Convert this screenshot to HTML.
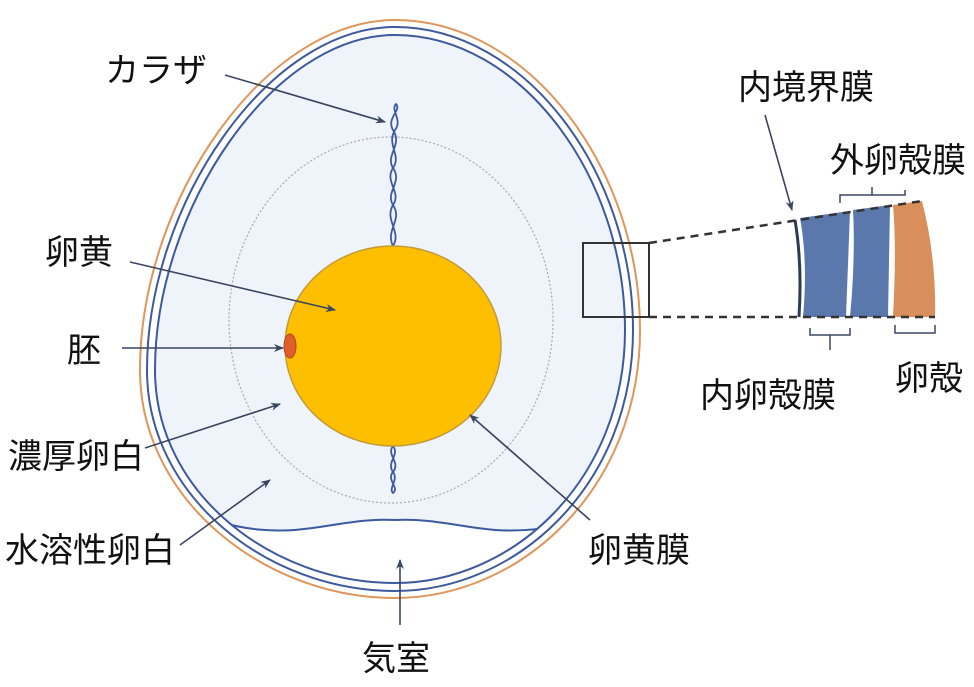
<!DOCTYPE html>
<html><head><meta charset="utf-8"><style>
body{margin:0;background:#fff}
svg text{font-family:"Liberation Sans","Noto Sans CJK JP",sans-serif;font-size:34px;fill:#111}
</style></head><body>
<svg width="974" height="682" viewBox="0 0 974 682" xmlns="http://www.w3.org/2000/svg">
<defs><marker id="a" markerWidth="10" markerHeight="10" refX="9" refY="5" orient="auto" markerUnits="userSpaceOnUse"><path d="M0,1 L10,5 L0,9 L3,5Z" fill="#3a4660"/></marker>
<clipPath id="c"><path d="M395,35 C520,35 625,175 625,330 C625,480 513,583 395,583 C272,583 155,493 155,370 C155,210 272,35 395,35 Z"/></clipPath></defs>
<!-- shell -->
<path d="M395,35 C520,35 625,175 625,330 C625,480 513,583 395,583 C272,583 155,493 155,370 C155,210 272,35 395,35 Z" fill="#eef4fa"/>
<path clip-path="url(#c)" d="M100,470 C200,525 250,533 295,530 C330,527 360,518 395,520 C430,518 460,527 495,530 C540,533 600,525 700,470 L700,700 L100,700Z" fill="#fff"/>
<path d="M395,20 C530,20 640,170 640,330 C640,490 520,598 395,598 C265,598 140,500 140,370 C140,200 265,20 395,20 Z" fill="none" stroke="#e0955a" stroke-width="2"/>
<path d="M395,27 C525,27 633,172 633,330 C633,485 517,591 395,591 C268,591 147,497 147,370 C147,205 268,27 395,27 Z" fill="none" stroke="#3d5a9e" stroke-width="2"/>
<path d="M395,35 C520,35 625,175 625,330 C625,480 513,583 395,583 C272,583 155,493 155,370 C155,210 272,35 395,35 Z" fill="none" stroke="#3d5a9e" stroke-width="2"/>
<path clip-path="url(#c)" d="M100,470 C200,525 250,533 295,530 C330,527 360,518 395,520 C430,518 460,527 495,530 C540,533 600,525 700,470" fill="none" stroke="#3d5a9e" stroke-width="2"/>
<!-- dotted thick albumen -->
<ellipse cx="391" cy="320" rx="162" ry="183" fill="none" stroke="#aaa" stroke-width="1.2" stroke-dasharray="2,2"/>
<!-- chalaza -->
<path d="M393,246 C385,230 403,220 393,205 C385,192 403,182 393,168 C385,155 403,145 393,130 C386,118 402,110 396,104 C390,110 403,120 395,130 C386,145 402,155 393,168 C384,182 402,192 393,205 C384,220 402,232 393,246" fill="none" stroke="#3d5a9e" stroke-width="1.8"/>
<path d="M393,446 C386,455 401,462 393,472 C386,480 400,488 393,493 C388,488 399,480 393,472 C386,462 400,455 393,446" fill="none" stroke="#3d5a9e" stroke-width="1.8"/>
<!-- yolk -->
<ellipse cx="393" cy="346" rx="108" ry="100" fill="#fdbf00" stroke="#c39a3a" stroke-width="1.5"/>
<ellipse cx="290" cy="346" rx="6" ry="12" fill="#e0602b" stroke="#b84020" stroke-width="1"/>
<!-- arrows -->
<g stroke="#3a4660" stroke-width="1.6" fill="none" marker-end="url(#a)">
<line x1="225" y1="75" x2="385" y2="122"/>
<line x1="130" y1="262" x2="335" y2="310"/>
<line x1="122" y1="348" x2="283" y2="348"/>
<line x1="145" y1="448" x2="280" y2="404"/>
<line x1="180" y1="545" x2="270" y2="480"/>
<line x1="590" y1="520" x2="470" y2="415"/>
<line x1="400" y1="625" x2="400" y2="560"/>
<line x1="765" y1="115" x2="792" y2="210"/>
</g>
<!-- zoom -->
<rect x="583" y="243" width="66" height="74" fill="none" stroke="#333" stroke-width="2"/>
<path d="M800,218 L850,211 L846,317 L803,317 C806,285 806,250 800,218Z" fill="#5a78ac"/>
<path d="M853,210 L890,205 L888,317 L850,317 C853,285 855,245 853,210Z" fill="#5a78ac"/>
<path d="M893,205 L922,201 C932,240 936,280 935,317 L893,317 C895,280 896,240 893,205Z" fill="#d98f5c"/>
<path d="M795,220 C800,250 801,285 799,317" stroke="#2c3a55" stroke-width="3" fill="none"/>
<g stroke="#333" stroke-width="2.5" stroke-dasharray="8,6" fill="none">
<line x1="649" y1="243" x2="922" y2="201"/>
<line x1="649" y1="317" x2="935" y2="317"/>
</g>
<g stroke="#3a4660" stroke-width="1.5" fill="none">
<path d="M840,203 L840,195 L905,195 L905,190 M872,195 L872,187"/>
<path d="M810,328 L810,335 L850,335 L850,328 M830,335 L830,350"/>
<path d="M895,325 L895,333 L935,333 L935,325"/>
</g>
<!-- labels -->
<text x="105" y="82">カラザ</text>
<text x="45" y="264">卵黄</text>
<text x="67" y="362">胚</text>
<text x="8" y="468">濃厚卵白</text>
<text x="5" y="562">水溶性卵白</text>
<text x="588" y="562">卵黄膜</text>
<text x="362" y="670">気室</text>
<text x="738" y="99">内境界膜</text>
<text x="830" y="172">外卵殻膜</text>
<text x="700" y="407">内卵殻膜</text>
<text x="895" y="390">卵殻</text>
</svg>
</body></html>
